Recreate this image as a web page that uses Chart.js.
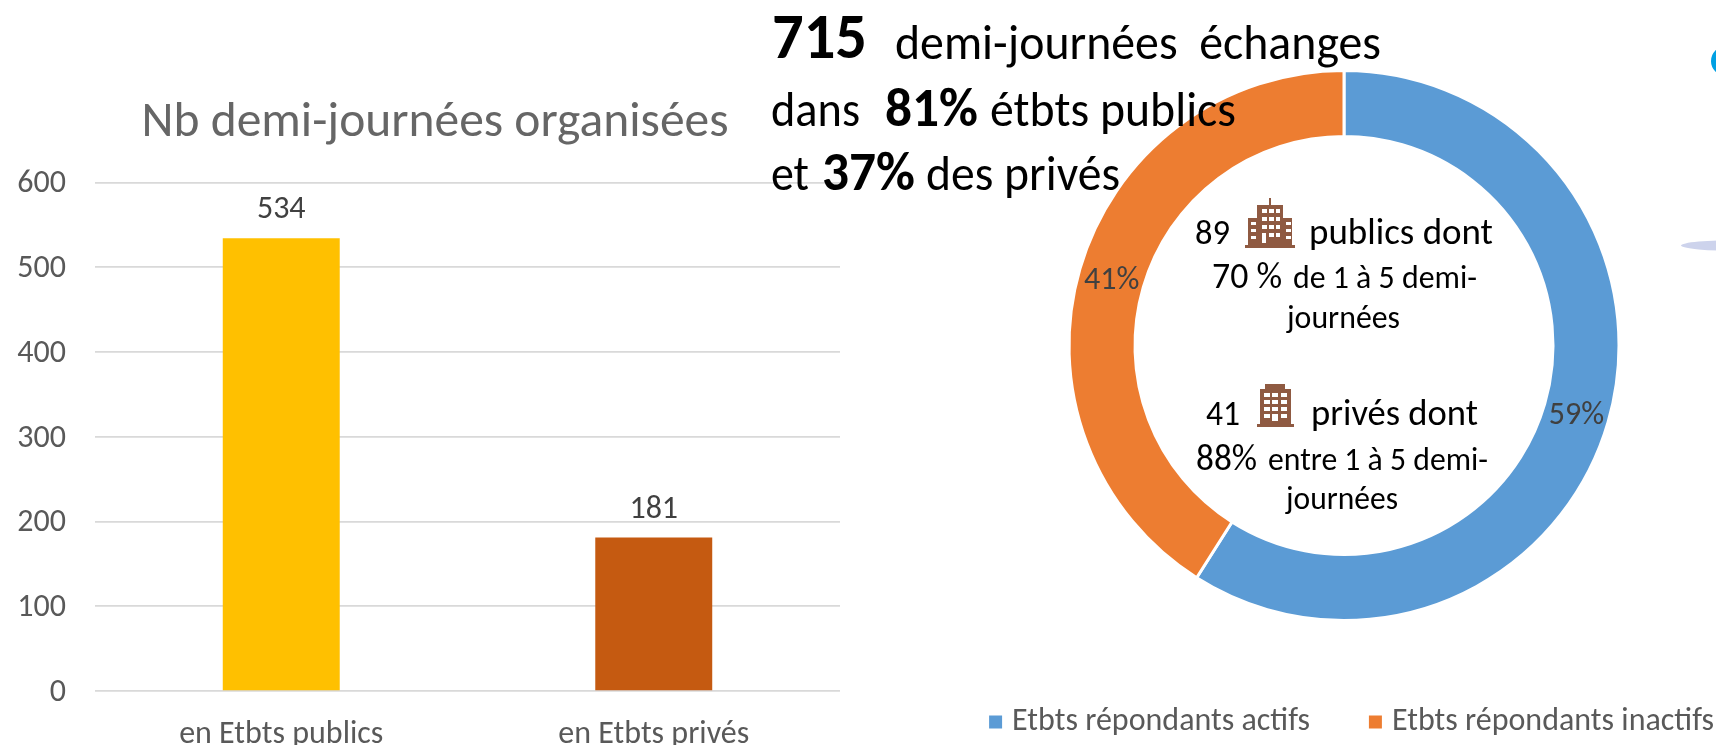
<!DOCTYPE html>
<html lang="fr"><head><meta charset="utf-8">
<script src="https://cdn.jsdelivr.net/npm/chart.js@4"></script>
<style>
html,body{margin:0;padding:0;background:#fff;width:1716px;height:745px;overflow:hidden;position:relative}
canvas{position:absolute;display:block}
#barBox{position:absolute;left:0;top:0;width:870px;height:745px}
#donutBox{position:absolute;left:0;top:-8px;width:1721px;height:758px}
.deco{position:absolute}
svg{position:absolute}
</style></head><body>
<div id="barBox"><canvas id="bar"></canvas></div>
<div id="donutBox"><canvas id="donut"></canvas></div>
<div class="deco" style="left:1711px;top:46px;width:30px;height:30px;border-radius:50%;background:#00A0E3"></div>
<div class="deco" style="left:1681px;top:240px;width:120px;height:11px;border-radius:50%;background:#CDD3EC"></div>
<svg style="left:1245px;top:198px" width="52" height="50" viewBox="0 0 52 50">
 <path fill="#8F5A42" d="M0 50v-3h3V20h9V7h12V0h2v7h12v13h9v27h3v3z"/>
 <g fill="#fff"><rect x="17" y="11" width="5" height="4"/><rect x="24" y="11" width="5" height="4"/><rect x="31" y="11" width="4" height="4"/>
 <rect x="17" y="19" width="5" height="4"/><rect x="24" y="19" width="5" height="4"/><rect x="31" y="19" width="4" height="4"/>
 <rect x="17" y="27" width="5" height="4"/><rect x="24" y="27" width="5" height="4"/><rect x="31" y="27" width="4" height="4"/>
 <rect x="17" y="35" width="4" height="10"/><rect x="24" y="35" width="5" height="4"/><rect x="31" y="35" width="4" height="4"/>
 <rect x="6" y="24" width="5" height="3"/><rect x="6" y="31" width="5" height="3"/><rect x="6" y="38" width="5" height="3"/>
 <rect x="41" y="24" width="5" height="3"/><rect x="41" y="31" width="5" height="3"/><rect x="41" y="38" width="5" height="3"/></g>
</svg>
<svg style="left:1257px;top:384px" width="37" height="43" viewBox="0 0 37 43">
 <path fill="#8F5A42" d="M0 43v-3h3V5h5V0h20v5h6v35h3v3z"/>
 <g fill="#fff"><rect x="7" y="9" width="6" height="4"/><rect x="15" y="9" width="6" height="4"/><rect x="24" y="9" width="6" height="4"/>
 <rect x="7" y="16" width="6" height="4"/><rect x="15" y="16" width="6" height="4"/><rect x="24" y="16" width="6" height="4"/>
 <rect x="7" y="23" width="6" height="4"/><rect x="15" y="23" width="6" height="4"/><rect x="24" y="23" width="6" height="4"/>
 <rect x="7" y="30" width="6" height="4"/><rect x="15" y="30" width="6" height="7"/><rect x="24" y="30" width="6" height="4"/></g>
</svg>
<script>
const FONT = 'Carlito, Lato, sans-serif';
const TICK_COLOR = '#595959';

const barCategories = ['en Etbts publics', 'en Etbts privés'];
const barValues = [534, 181];
const barColors = ['#FFC000', '#C55A11'];
const barTitle = 'Nb demi-journées organisées';
const barTicks = [0, 100, 200, 300, 400, 500, 600];

const donutCategories = ['Etbts répondants actifs', 'Etbts répondants inactifs'];
const donutValues = [59, 41];
const donutColors = ['#5B9BD5', '#ED7D31'];

// text, left, right, baseline, size, weight
const notes = [
  ['715', 772, 867, 58, 64, 700],
  ['demi-journées  échanges', 895, 1381, 59, 50, 400],
  ['dans', 771, 860, 126, 50, 400],
  ['81%', 885, 978, 126, 54, 700],
  ['étbts publics', 990, 1236, 126, 50, 400],
  ['et', 771, 809, 190, 50, 400],
  ['37%', 822, 915, 190, 54, 700],
  ['des privés', 926, 1120, 190, 50, 400],
  ['89', 1195, 1230, 244, 35, 400],
  ['publics dont', 1309, 1493, 244, 37, 400],
  ['70 %', 1212, 1282, 288, 36, 400],
  ['de 1 à 5 demi-', 1293, 1477, 288, 32, 400],
  ['journées', 1287, 1400, 328, 32, 400],
  ['41', 1206, 1240, 425, 35, 400],
  ['privés dont', 1311, 1478, 425, 37, 400],
  ['88%', 1196, 1257, 470, 36, 400],
  ['entre 1 à 5 demi-', 1268, 1488, 470, 32, 400],
  ['journées', 1286, 1398, 509, 32, 400]
];
const DONUT_TOP = -8;

const barLabels = {
  id: 'barLabels',
  afterLayout(chart) {
    chart.titleBlock.left += 15;
    chart.titleBlock.right += 15;
  },
  beforeDraw(chart) {
    chart.scales.y.getLabelItems().forEach(item => {
      if (!item.shifted) { item.options.translation[1] += 2; item.shifted = true; }
    });
  },
  afterDatasetsDraw(chart) {
    const ctx = chart.ctx, meta = chart.getDatasetMeta(0);
    ctx.save();
    ctx.font = '32px ' + FONT; ctx.fillStyle = '#404040';
    ctx.textAlign = 'center'; ctx.textBaseline = 'alphabetic';
    meta.data.forEach((el, i) => ctx.fillText(String(barValues[i]), el.x, el.y - 20));
    ctx.restore();
  }
};

const donutLabels = {
  id: 'donutLabels',
  afterDraw(chart) {
    const ctx = chart.ctx, meta = chart.getDatasetMeta(0);
    ctx.save();
    ctx.font = '32px ' + FONT; ctx.fillStyle = '#404040';
    ctx.textAlign = 'center'; ctx.textBaseline = 'middle';
    meta.data.forEach((arc, i) => {
      const p = arc.getCenterPoint();
      ctx.fillText(donutValues[i] + '%', p.x, p.y + 3);
    });
    ctx.fillStyle = '#000'; ctx.textAlign = 'left'; ctx.textBaseline = 'alphabetic';
    notes.forEach(([text, x0, x1, base, size, weight]) => {
      ctx.font = weight + ' ' + size + 'px ' + FONT;
      const w = ctx.measureText(text).width;
      ctx.save();
      ctx.translate(x0, base - DONUT_TOP);
      ctx.scale((x1 - x0) / w, 1);
      ctx.fillText(text, 0, 0);
      ctx.restore();
    });
    ctx.restore();
  }
};

new Chart(document.getElementById('bar'), {
  type: 'bar',
  data: { labels: barCategories, datasets: [{ data: barValues, backgroundColor: barColors, barPercentage: 0.314, categoryPercentage: 1 }] },
  options: {
    responsive: true, maintainAspectRatio: false, animation: false,
    layout: { padding: { right: 30, left: 0, top: 0, bottom: 0 } },
    plugins: {
      legend: { display: false }, tooltip: { enabled: false },
      title: { display: true, text: barTitle, color: '#666666', font: { family: FONT, size: 49.5, weight: 300 }, padding: { top: 94, bottom: 29 } }
    },
    scales: {
      x: {
        grid: { display: false }, border: { display: false },
        ticks: { color: TICK_COLOR, font: { family: FONT, size: 32 }, padding: 17 },
        afterFit(s) { s.height = 54; }
      },
      y: {
        min: 0, max: 600,
        afterBuildTicks(s) { s.ticks = barTicks.map(v => ({ value: v })); },
        grid: { color: '#D9D9D9', lineWidth: 1.7, drawTicks: false }, border: { display: false },
        ticks: { color: TICK_COLOR, font: { family: FONT, size: 32 }, padding: 29 },
        afterFit(s) { s.width = 95; }
      }
    }
  },
  plugins: [barLabels]
});

new Chart(document.getElementById('donut'), {
  type: 'doughnut',
  data: { labels: donutCategories, datasets: [{ data: donutValues, backgroundColor: donutColors, borderColor: '#fff', borderWidth: 3 }] },
  options: {
    responsive: true, maintainAspectRatio: false, animation: false,
    radius: 275, cutout: '76%',
    layout: { padding: { left: 967, right: 0, top: 0, bottom: 2 } },
    plugins: {
      tooltip: { enabled: false },
      legend: {
        position: 'bottom', align: 'end',
        labels: {
          color: TICK_COLOR, font: { family: FONT, size: 32 }, usePointStyle: true, pointStyle: 'rect',
          boxWidth: 1, boxHeight: 13, padding: 7,
          generateLabels(chart) {
            return Chart.overrides.doughnut.plugins.legend.labels.generateLabels(chart).map((l, i) => {
              if (i === 0) l.text += '\u00a0'.repeat(8);
              l.strokeStyle = l.fillStyle; l.lineWidth = 0;
              return l;
            });
          }
        }
      }
    }
  },
  plugins: [donutLabels]
});
</script>
</body></html>
